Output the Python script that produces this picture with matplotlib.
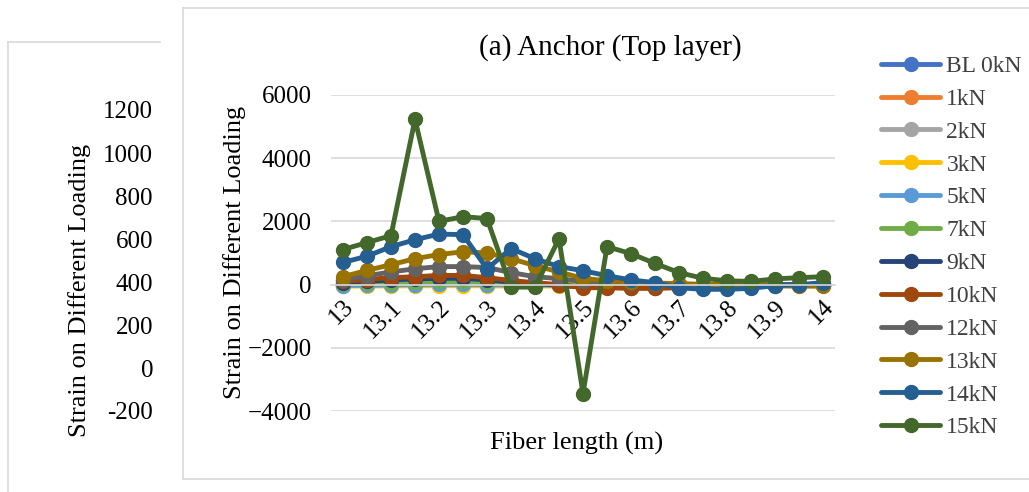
import matplotlib.pyplot as plt
from matplotlib.lines import Line2D

plt.rcParams['font.family'] = ['Liberation Serif', 'DejaVu Serif']

fiber_length = [13.0, 13.05, 13.1, 13.15, 13.2, 13.25, 13.3, 13.35, 13.4, 13.45, 13.5,
                13.55, 13.6, 13.65, 13.7, 13.75, 13.8, 13.85, 13.9, 13.95, 14.0]

labels = ['BL 0kN', '1kN', '2kN', '3kN', '5kN', '7kN', '9kN', '10kN', '12kN', '13kN', '14kN', '15kN']
colors = ['#4472C4', '#ED7D31', '#A5A5A5', '#FFC000', '#5B9BD5', '#70AD47',
          '#264478', '#9E480E', '#636363', '#997300', '#255E91', '#43682B']

bl0 = [0, 0, 0, 0, 0, 0, 0, 0, 0, 0, 0, 0, 0, 0, 0, 0, 0, 0, 0, 0, 0]
kn1 = [-10, -5, 0, 5, 10, 10, 5, 0, -5, -10, -15, -15, -15, -15, -10, -10, -5, -5, 0, 0, 0]
kn2 = [-20, -10, -5, 0, 5, 5, 0, -5, -10, -15, -20, -20, -20, -20, -15, -15, -10, -5, 0, 0, 0]
kn3 = [-50, -45, -40, -40, -35, -35, -40, -45, -45, -45, -40, -40, -35, -30, -25, -20, -20, -15, -10, -5, 0]
kn5 = [-30, -20, -10, 0, 5, 5, 0, -10, -15, -20, -25, -25, -25, -20, -15, -15, -10, -10, -5, 0, 0]
kn7 = [20, 40, 60, 80, 100, 100, 70, 40, 20, 0, -20, -30, -30, -30, -25, -20, -15, -10, -5, 0, 5]
kn9 = [60, 100, 150, 180, 200, 200, 150, 80, 30, -20, -80, -90, -100, -100, -90, -70, -50, -30, -20, -10, 0]
kn10 = [100, 160, 220, 250, 290, 290, 220, 130, 60, 0, -100, -100, -120, -120, -100, -80, -60, -40, -20, -10, 0]
kn12 = [150, 280, 400, 500, 570, 570, 540, 380, 250, 190, 100, 100, 60, 30, 10, 0, -10, -10, -10, -10, 0]
kn13 = [250, 450, 630, 820, 950, 1040, 1000, 820, 600, 400, 200, 120, 80, 50, 30, 10, 0, -20, -40, -50, -50]
kn14 = [700, 900, 1200, 1420, 1600, 1580, 500, 1140, 820, 570, 440, 280, 150, 60, -100, -150, -150, -120, -30, 0, 60]
kn15 = [1110, 1330, 1550, 5230, 2000, 2150, 2090, -80, -80, 1450, -3450,
        1200, 980, 670, 380, 200, 120, 100, 180, 220, 250]

series = [bl0, kn1, kn2, kn3, kn5, kn7, kn9, kn10, kn12, kn13, kn14, kn15]

fig = plt.figure(figsize=(10.29, 4.92), dpi=100)

# background chart partly hidden on the left
grey = '#D9D9D9'
fig.add_artist(Line2D([8/1029, 8/1029], [0, 1 - 42/492], transform=fig.transFigure, color=grey, lw=1.2))
fig.add_artist(Line2D([8/1029, 160/1029], [1 - 42/492, 1 - 42/492], transform=fig.transFigure, color=grey, lw=1.2))
back_ticks = ['1200', '1000', '800', '600', '400', '200', '0', '-200']
back_y = [112, 156, 199, 242, 285, 328, 371, 413]
for t, y in zip(back_ticks, back_y):
    fig.text(153/1029, 1 - y/492, t, ha='right', va='center', fontsize=18)
fig.text(80/1029, 1 - 290/492, 'Strain on Different Loading', rotation=90,
         ha='center', va='center', fontsize=19)

# front chart frame
fig.add_artist(Line2D([183/1029, 183/1029], [1 - 479/492, 1 - 8/492], transform=fig.transFigure, color=grey, lw=1.2))
fig.add_artist(Line2D([183/1029, 1], [1 - 8/492, 1 - 8/492], transform=fig.transFigure, color=grey, lw=1.2))
fig.add_artist(Line2D([183/1029, 1], [1 - 479/492, 1 - 479/492], transform=fig.transFigure, color=grey, lw=1.2))

ax = fig.add_axes([331/1029, 1 - 411/492, 504/1029, 316/492])

for vals, lab, col in zip(series, labels, colors):
    ax.plot(fiber_length, vals, color=col, lw=3.5, marker='o', ms=10, label=lab,
            solid_capstyle='round', solid_joinstyle='round')

ax.set_xlim(13 - 0.025, 14 + 0.025)
ax.set_ylim(-4000, 6000)
ax.set_yticks([-4000, -2000, 0, 2000, 4000, 6000])
ax.grid(axis='y', color=grey, lw=1.2)
ax.set_axisbelow(True)
for s in ['top', 'right', 'left']:
    ax.spines[s].set_visible(False)
ax.spines['bottom'].set_position(('data', 0))
ax.spines['bottom'].set_color(grey)
ax.spines['bottom'].set_linewidth(1.2)

xt = fiber_length[::2]
ax.set_xticks(xt)
ax.set_xticklabels([f'{v:g}' for v in xt], rotation=45, ha='right', va='top',
                   rotation_mode='anchor', fontsize=18)
ax.tick_params(axis='both', length=0, labelsize=18)
ax.tick_params(axis='x', pad=8)
ax.tick_params(axis='y', pad=14)

fig.text(610/1029, 1 - 48/492, '(a) Anchor (Top layer)', ha='center', va='center', fontsize=21)
fig.text(577/1029, 1 - 443/492, 'Fiber length (m)', ha='center', va='center', fontsize=19)
fig.text(235/1029, 1 - 252/492, 'Strain on Different Loading', rotation=90,
         ha='center', va='center', fontsize=19)

ax.legend(loc='upper left', bbox_to_anchor=(872/1029, 1 - 46/492), bbox_transform=fig.transFigure,
          frameon=False, fontsize=17, labelspacing=0.48, handlelength=2.5,
          handletextpad=0.25, labelcolor='#404040', borderaxespad=0)

fig.savefig('out.png', dpi=100)
